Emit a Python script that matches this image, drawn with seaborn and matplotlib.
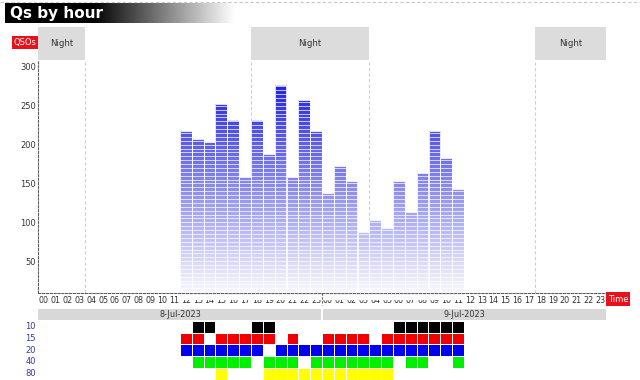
import numpy as np
import pandas as pd
import matplotlib
matplotlib.use("Agg")
import matplotlib.pyplot as plt
import matplotlib.transforms as mtransforms
from matplotlib.patches import Rectangle
from matplotlib.lines import Line2D
from matplotlib.colors import ListedColormap, LinearSegmentedColormap
import seaborn as sns

# ---------------- data ----------------
hour_labels = ["00", "01", "02", "03", "04", "05", "06", "07", "08", "09", "10", "11",
               "12", "13", "14", "15", "16", "17", "18", "19", "20", "21", "22", "23"] * 2
dates = ["8-Jul-2023", "9-Jul-2023"]
# hour index (0..47 across the two days) that have QSOs
qso_hours = [12, 13, 14, 15, 16, 17, 18, 19, 20, 21, 22, 23,
             24, 25, 26, 27, 28, 29, 30, 31, 32, 33, 34, 35]
qso_counts = [217, 207, 203, 252, 232, 158, 232, 188, 277, 158, 257, 217,
              138, 172, 153, 88, 103, 93, 153, 113, 163, 218, 183, 143]
night_spans = [(0, 4), (18, 28), (42, 48)]
bands = ["10", "15", "20", "40", "80"]
band_colors = ["#000000", "#f00000", "#0000f0", "#00f000", "#ffff00"]
band_10 = [13, 14, 18, 19, 30, 31, 32, 33, 34, 35]
band_15 = [12, 13, 15, 16, 17, 18, 19, 21, 24, 25, 26, 27, 29, 30, 31, 32, 33, 34, 35]
band_20 = [12, 13, 14, 15, 16, 17, 18, 20, 21, 22, 23, 24, 25, 26, 27, 28, 29, 30,
           31, 32, 33, 34, 35]
band_40 = [13, 14, 15, 16, 17, 19, 20, 21, 23, 24, 25, 26, 27, 28, 29, 31, 32, 35]
band_80 = [15, 19, 20, 21, 22, 23, 24, 25, 26, 27, 28, 29]
band_hours = [band_10, band_15, band_20, band_40, band_80]

# ---------------- setup ----------------
sns.set_theme(style="white")
plt.rcParams["font.family"] = ["DejaVu Sans"]

W, H = 640, 380
fig = plt.figure(figsize=(W / 100, H / 100), dpi=100)
fig.patch.set_facecolor("white")


def px_axes(x0, y0, x1, y1):
    return fig.add_axes([x0 / W, 1 - y1 / H, (x1 - x0) / W, (y1 - y0) / H])


PX_L, PX_R, PX_T, PX_B = 38, 606, 60, 293
ax = px_axes(PX_L, PX_T, PX_R, PX_B)

n_hours = len(hour_labels)
counts = np.zeros(n_hours)
for h, c in zip(qso_hours, qso_counts):
    counts[h] = c
df = pd.DataFrame({"idx": np.arange(n_hours), "qsos": counts})

sns.barplot(data=df, x="idx", y="qsos", order=list(range(n_hours)), ax=ax,
            width=1.0, color="#5050e0", edgecolor="white", linewidth=0.6,
            saturation=1)

YMIN, YMAX = 9, 309
grad_cmap = LinearSegmentedColormap.from_list("qs", ["#ffffff", "#1414dc"])
for p in list(ax.patches):
    h = p.get_height()
    if h <= 0:
        continue
    x0, w = p.get_x(), p.get_width()
    vals = np.linspace(0, h, 300)[:, None]
    im = ax.imshow(vals, extent=(x0, x0 + w, 0, h), origin="lower", aspect="auto",
                   cmap=grad_cmap, vmin=0, vmax=295, zorder=2, interpolation="bilinear")
    im.set_clip_path(p)
    p.set_facecolor("none")
    p.set_zorder(3)
    ax.hlines(np.arange(5, h, 5), x0, x0 + w, colors="white", lw=0.5, zorder=3)

ax.set_xlim(-0.5, n_hours - 0.5)
ax.set_ylim(YMIN, YMAX)
ax.set_xlabel("")
ax.set_ylabel("")

# axes styling
for s in ["top", "right"]:
    ax.spines[s].set_visible(False)
for s in ["left", "bottom"]:
    ax.spines[s].set_color("#606060")
    ax.spines[s].set_linestyle((0, (2, 1.5)))
    ax.spines[s].set_linewidth(0.8)
ax.set_yticks([50, 100, 150, 200, 250, 300])
ax.set_yticklabels(["50", "100", "150", "200", "250", "300"])
ax.tick_params(axis="y", length=0, pad=1.5, labelsize=6, labelcolor="#333344")
ax.set_xticks(np.arange(n_hours))
ax.set_xticklabels(hour_labels)
ax.tick_params(axis="x", length=0, pad=2.5, labelsize=5.8, labelcolor="#333333")

# night regions
trans = mtransforms.blended_transform_factory(ax.transData, ax.transAxes)
box_h = (PX_T - 27) / (PX_B - PX_T)
for a, b in night_spans:
    ax.add_patch(Rectangle((a - 0.5, 1.0), b - a, box_h, transform=trans,
                           facecolor="#dcdcdc", edgecolor="none", clip_on=False, zorder=1))
    ax.text((a + b) / 2 - 0.5, 1.0 + box_h / 2, "Night", transform=trans,
            ha="center", va="center", fontsize=6.2, color="#333333")
    for xb in (a, b):
        if 0 < xb < n_hours:
            ax.axvline(xb - 0.5, color="#d0d0d0", lw=0.8, ls=(0, (3, 2)), zorder=1)

# separators in hour label row
sep_h = 12 / (PX_B - PX_T)
for xb in (23.5, 47.5):
    ax.plot([xb, xb], [0, -sep_h], transform=trans, color="#606060", lw=0.8,
            ls=(0, (2, 1.5)), clip_on=False)

# date band
axd = px_axes(PX_L, 309, PX_R, 320)
axd.set_xlim(-0.5, n_hours - 0.5)
axd.set_ylim(0, 1)
for i, d in enumerate(dates):
    lo = i * 24 - 0.5 + (0.05 if i > 0 else 0)
    hi = i * 24 + 23.5 - (0.05 if i == 0 else 0)
    axd.axvspan(lo, hi, color="#d8d8d8", lw=0)
    axd.text(i * 24 + 11.5, 0.5, d, ha="center", va="center", fontsize=5.9,
             color="#333333")
axd.axis("off")

# band activity grid
mat = np.zeros((len(bands), n_hours))
for r, hrs in enumerate(band_hours):
    for h in hrs:
        mat[r, h] = r + 1
axb = px_axes(PX_L, 321, PX_R, 379.5)
band_cmap = ListedColormap(["#ffffff"] + band_colors)
sns.heatmap(mat, ax=axb, cmap=band_cmap, vmin=-0.5, vmax=5.5, cbar=False,
            linewidths=0.45, linecolor="white", xticklabels=False, yticklabels=bands)
axb.tick_params(axis="y", length=0, pad=1.5, labelsize=6, labelcolor="#3a3a9a",
                rotation=0)

# title with gradient
axt = px_axes(5, 3, 235, 23)
gx = np.linspace(0, 1, 400)
gv = np.clip((gx - 0.38) / 0.62, 0, 1)[None, :]
axt.imshow(gv, cmap="gray", vmin=0, vmax=1, aspect="auto", extent=(0, 1, 0, 1))
axt.axis("off")
fig.text(10 / W, 1 - 13.5 / H, "Qs by hour", color="white", fontsize=11,
         fontweight="bold", ha="left", va="center")

# top dashed border
fig.add_artist(Line2D([0, 1], [1 - 1.5 / H] * 2, transform=fig.transFigure,
                      color="#c8c8c8", lw=0.8, ls=(0, (3, 2))))

# red labels
fig.text(25 / W, 1 - 42.5 / H, "QSOs", color="white", fontsize=6, ha="center",
         va="center", bbox=dict(boxstyle="square,pad=0.2", fc="#e8101a", ec="none"))
fig.text(618 / W, 1 - 299 / H, "Time", color="white", fontsize=6, ha="center",
         va="center", bbox=dict(boxstyle="square,pad=0.25", fc="#e8101a", ec="none"))

fig.savefig("out.png", dpi=100, facecolor="white")
